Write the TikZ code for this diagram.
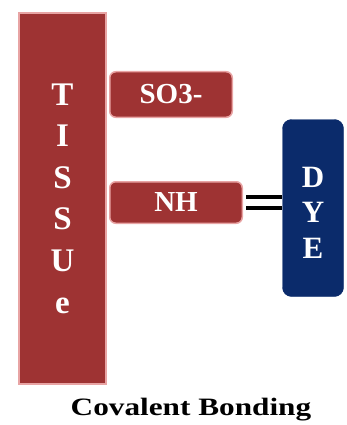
\documentclass[tikz,border=0pt]{standalone}
\usepackage{fontspec}
\setmainfont{Liberation Serif}
\usepackage{xcolor}
\definecolor{tissueRed}{HTML}{9E3333}
\definecolor{tissueEdge}{HTML}{E8A4A4}
\definecolor{dyeBlue}{HTML}{0B2B6B}
\usepackage{tikz}
\usetikzlibrary{positioning,calc}
\tikzset{%
  tissueBar/.style={%
    rectangle,
    draw=tissueEdge,
    line width=2pt,
    fill=tissueRed,
    minimum width=87pt,
    minimum height=371pt,
    inner sep=0pt,
    text=white,
    align=center,
    font=\bfseries\fontsize{33}{41.6}\selectfont
  },
  groupBox/.style={%
    rectangle,
    rounded corners=6pt,
    draw=tissueEdge,
    line width=1.5pt,
    fill=tissueRed,
    inner sep=0pt,
    text=white,
    font=\bfseries\fontsize{29}{30}\selectfont
  },
  dyeBox/.style={%
    rectangle,
    rounded corners=9pt,
    draw=dyeBlue,
    fill=dyeBlue,
    minimum width=61pt,
    minimum height=177pt
  },
  dyeText/.style={%
    text=white,
    align=center,
    inner sep=0pt,
    font=\bfseries\fontsize{31}{35.5}\selectfont
  },
  bondLine/.style={%
    line width=4pt,
    color=black
  },
  captionText/.style={%
    xscale=1.25,
    font=\bfseries\fontsize{25}{28}\selectfont
  }
}

\begin{document}
\begin{tikzpicture}[x=1pt,y=-1pt]
  \useasboundingbox (0,0) rectangle (346,425);

  \node[tissueBar] (tissue) at (62.5,198.5) {T\\I\\S\\S\\U\\e};
  \node[groupBox, minimum width=122.5pt, minimum height=45.5pt] (so3) at (171,94.5) {SO3-};
  \node[groupBox, minimum width=132.5pt, minimum height=41.5pt] (nh) at (176,202.5) {NH};
  \node[dyeBox] (dye) at (313,208) {};
  \node[dyeText] (dyeLetters) at (313,212.5) {D\\Y\\E};

  \draw[bondLine, shorten <=3pt] ([yshift=5.5pt]nh.east) -- ([yshift=5.5pt]nh.east -| dye.west);
  \draw[bondLine, shorten <=3pt] ([yshift=-5.5pt]nh.east) -- ([yshift=-5.5pt]nh.east -| dye.west);

  \node[captionText] (caption) at (191,410) {Covalent Bonding};
\end{tikzpicture}
\end{document}
